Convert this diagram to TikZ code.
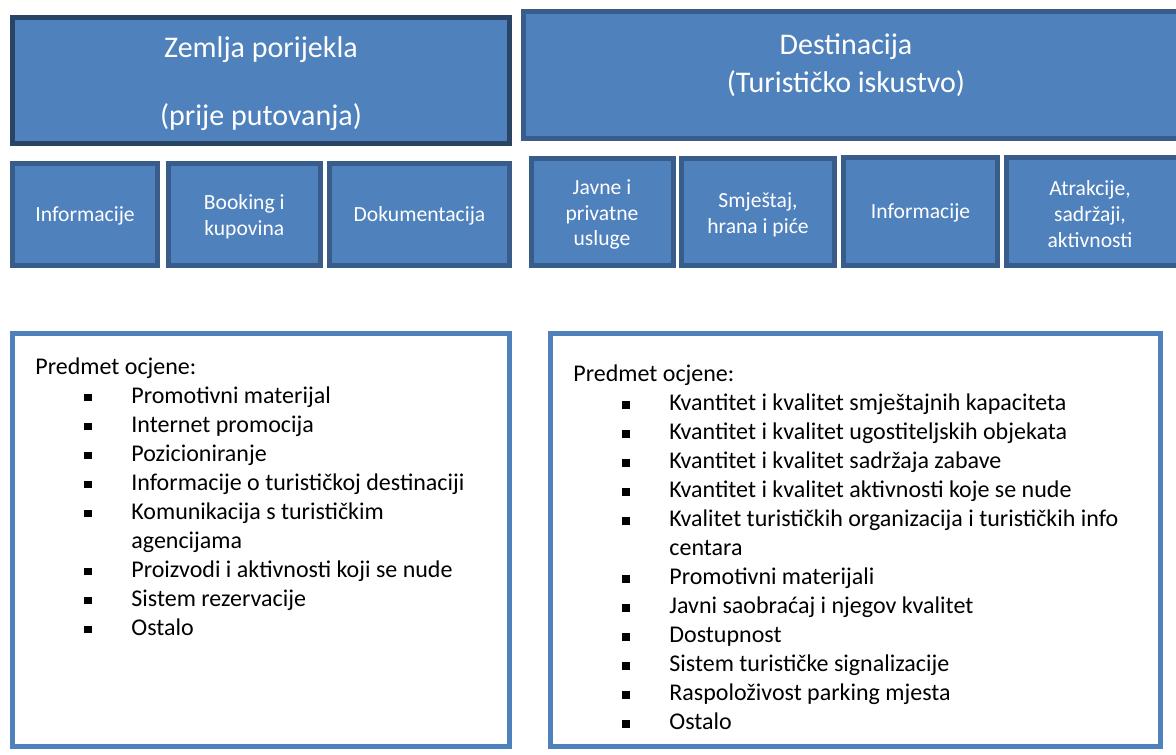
\documentclass[tikz,border=0pt]{standalone}
\usepackage{fontspec}
\setmainfont{Carlito}
\definecolor{fillblue}{HTML}{4F81BD}
\definecolor{darkedge}{HTML}{2A4466}
\definecolor{edge}{HTML}{385D8A}
\newcommand\listbullet{\hspace*{24.5pt}\makebox[23.5pt][l]{\rule[0.8pt]{3.8pt}{3.8pt}}}
\newcommand\listcont{\hspace*{48pt}}
\tikzset{
  bluebox/.style={draw=edge, fill=fillblue, line width=2.5pt, inner sep=0pt},
  framebox/.style={draw=fillblue, fill=white, line width=2.5pt, inner sep=0pt},
  listtext/.style={anchor=north west, inner sep=0pt, align=left, text=black,
    font=\fontsize{12}{14.5}\selectfont},
  titletext/.style={text=white, align=center, inner sep=0pt, font=\fontsize{15}{19}\selectfont},
  smalltext/.style={text=white, align=center, inner sep=0pt, font=\fontsize{10.8}{12.9}\selectfont}
}
\begin{document}
\begin{tikzpicture}[x=0.5pt,y=-0.5pt]
\useasboundingbox (0,0) rectangle (1176,754);
\clip (0,0) rectangle (1176,754);
% top big boxes
\node[bluebox, draw=darkedge, minimum width=248.5pt, minimum height=63pt] (origin) at (261,80.5) {};
\node[titletext, font=\fontsize{15}{17}\selectfont] (origintext) at (261,84)
  {Zemlja porijekla\\[17pt](prije putovanja)};
\node[bluebox, minimum width=329.5pt, minimum height=63.5pt] (dest) at (853,75) {};
\node[titletext] (desttext) at (846,65.5) {Destinacija\\(Turističko iskustvo)};
% left small boxes
\node[bluebox, minimum width=72.5pt, minimum height=51pt] (info1) at (85,214.5) {};
\node[smalltext] (info1text) at (85,216) {Informacije};
\node[bluebox, minimum width=76.25pt, minimum height=51pt] (book) at (244.25,214.5) {};
\node[smalltext] (booktext) at (244.25,217) {Booking i\\kupovina};
\node[bluebox, minimum width=90pt, minimum height=51pt] (doc) at (419.5,214.5) {};
\node[smalltext] (doctext) at (419.5,216) {Dokumentacija};
% right small boxes
\node[bluebox, minimum width=71pt, minimum height=53.5pt] (javne) at (602,212) {};
\node[smalltext] (javnetext) at (602,214.5) {Javne i\\privatne\\usluge};
\node[bluebox, minimum width=76.5pt, minimum height=53.5pt] (smjestaj) at (758,212) {};
\node[smalltext] (smjestajtext) at (758,214.5) {Smještaj,\\hrana i piće};
\node[bluebox, minimum width=77pt, minimum height=54pt] (info2) at (920.5,211.5) {};
\node[smalltext] (info2text) at (920.5,213) {Informacije};
\node[bluebox, minimum width=88pt, minimum height=54pt] (atr) at (1094.5,211.5) {};
\node[smalltext] (atrtext) at (1090,214) {Atrakcije,\\sadržaji,\\aktivnosti};
% bottom frames
\node[framebox, minimum width=248.5pt, minimum height=206.5pt] (frameL) at (261,540) {};
\node[framebox, minimum width=305pt, minimum height=206.5pt] (frameR) at (855.5,540) {};
\node[listtext] (listL) at (35,357) {Predmet ocjene:\\
\listbullet Promotivni materijal\\
\listbullet Internet promocija\\
\listbullet Pozicioniranje\\
\listbullet Informacije o turističkoj destinaciji\\
\listbullet Komunikacija s turističkim\\
\listcont agencijama\\
\listbullet Proizvodi i aktivnosti koji se nude\\
\listbullet Sistem rezervacije\\
\listbullet Ostalo};
\node[listtext] (listR) at (573,364.5) {Predmet ocjene:\\
\listbullet Kvantitet i kvalitet smještajnih kapaciteta\\
\listbullet Kvantitet i kvalitet ugostiteljskih objekata\\
\listbullet Kvantitet i kvalitet sadržaja zabave\\
\listbullet Kvantitet i kvalitet aktivnosti koje se nude\\
\listbullet Kvalitet turističkih organizacija i turističkih info\\
\listcont centara\\
\listbullet Promotivni materijali\\
\listbullet Javni saobraćaj i njegov kvalitet\\
\listbullet Dostupnost\\
\listbullet Sistem turističke signalizacije\\
\listbullet Raspoloživost parking mjesta\\
\listbullet Ostalo};
\end{tikzpicture}
\end{document}
